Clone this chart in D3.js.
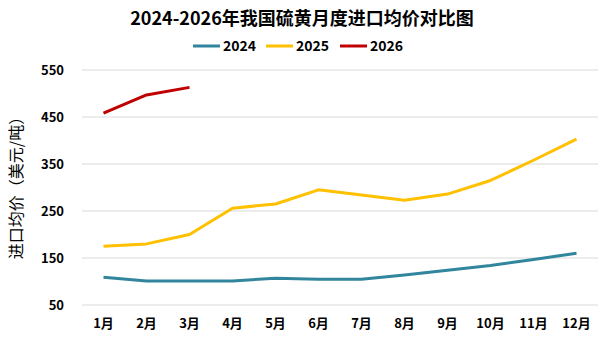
<!DOCTYPE html>
<html><head><meta charset="utf-8">
<script src="https://cdn.jsdelivr.net/npm/d3@7"></script>
<style>body{margin:0;background:#fff}text{font-family:"Noto Sans CJK SC","Microsoft YaHei",sans-serif}</style>
</head><body><svg id="c" width="605" height="339"></svg>
<script>
const months = ["1月","2月","3月","4月","5月","6月","7月","8月","9月","10月","11月","12月"];
const s2024 = [109,101,101,101,107,105,105,114,124,134,147,160];
const s2025 = [175,180,200,256,265,295,284,273,286,315,358,403];
const s2026 = [458,497,513];
const yTicks = [50,150,250,350,450,550];
const seriesNames = ["2024","2025","2026"];
const colors = ["#31859C","#FFC000","#C00000"];
const title = "2024-2026年我国硫黄月度进口均价对比图";
const yTitle = "进口均价（美元/吨）";

const svg = d3.select("#c");
const x = d3.scaleBand().domain(months).range([82,598]);
const y = d3.scaleLinear().domain([50,550]).range([305,70]);

svg.append("g").selectAll("line").data(yTicks).join("line")
  .attr("x1",82).attr("x2",598).attr("y1",d=>y(d)).attr("y2",d=>y(d))
  .attr("stroke","#d9d9d9").attr("stroke-width",1);

const yAxis = svg.append("g").attr("transform","translate(70,0)")
  .call(d3.axisLeft(y).tickValues(yTicks).tickSize(0).tickPadding(0));
yAxis.select(".domain").remove();
yAxis.selectAll("text").attr("font-size",13).attr("font-weight","bold").attr("fill","#000")
  .attr("font-family","Arial, 'Liberation Sans', sans-serif").attr("x",-6);

const xAxis = svg.append("g").attr("transform","translate(0,319)")
  .call(d3.axisBottom(x).tickSize(0).tickPadding(0));
xAxis.select(".domain").remove();
xAxis.selectAll("text").attr("font-size",13).attr("font-weight","bold").attr("fill","#000").attr("dy","0.71em");

const line = d3.line().x((d,i)=>x(months[i])+x.bandwidth()/2).y(d=>y(d));
[s2024,s2025,s2026].forEach((s,k)=>{
  svg.append("path").datum(s).attr("d",line).attr("fill","none")
    .attr("stroke",colors[k]).attr("stroke-width",3).attr("stroke-linejoin","round");
});

svg.append("text").attr("x",302).attr("y",25).attr("text-anchor","middle")
  .attr("font-size",18).attr("font-weight","bold").text(title);

const legX = [193,266,340];
seriesNames.forEach((n,k)=>{
  svg.append("line").attr("x1",legX[k]).attr("x2",legX[k]+27).attr("y1",46).attr("y2",46)
    .attr("stroke",colors[k]).attr("stroke-width",3);
  svg.append("text").attr("x",legX[k]+30).attr("y",51).attr("font-size",14).attr("font-weight","bold").text(n);
});

svg.append("text").attr("transform","translate(22,184) rotate(-90)").attr("text-anchor","middle")
  .attr("font-size",16).text(yTitle);
</script></body></html>
